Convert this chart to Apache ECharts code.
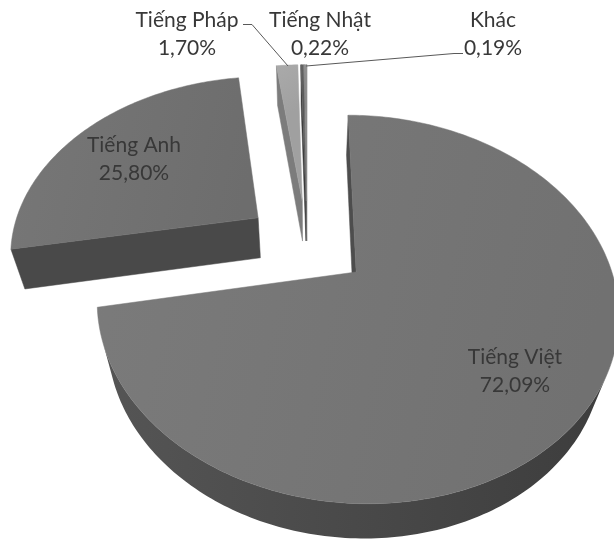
<!DOCTYPE html>
<html>
<head>
<meta charset="utf-8">
<script src="https://cdn.jsdelivr.net/npm/echarts@6/dist/echarts.min.js"></script>
<style>
  html, body { margin: 0; padding: 0; background: #ffffff; }
  #chart { width: 614px; height: 540px; }
</style>
</head>
<body>
<div id="chart"></div>
<script>
// Language shares (percent)
const categories = ['Tiếng Việt', 'Tiếng Anh', 'Tiếng Pháp', 'Tiếng Nhật', 'Khác'];
const shares = [72.09, 25.80, 1.70, 0.22, 0.19];

// Face colours for each slice (top face)
const topColors = ['#777777', '#737373', '#a6a6a6', '#5e5e5e', '#8c8c8c'];

// Where each slice starts, as cumulative percent
const total = shares.reduce((a, b) => a + b, 0);
const starts = [];
shares.reduce((acc, v) => { starts.push(acc); return acc + v; }, 0);

// Perspective camera looking down on the pie (pie radius = 1 world unit)
const VIEW = {
  cx: 307, cy: 243,          // screen position of the pie centre
  fx: 913, fy: 893,          // focal lengths in px
  dist: 3.68,                // camera distance
  tilt: 46.5 * Math.PI / 180,
  thick: 0.25,               // slab thickness
  explode: 0.25              // distance each slice is pulled out
};
const SIN = Math.sin(VIEW.tilt), COS = Math.cos(VIEW.tilt);
const CAM_Z = VIEW.dist * COS;

function depthOf(X, Y, Z) { return VIEW.dist - Z * COS - Y * SIN; }
function project(X, Y, Z) {
  const d = depthOf(X, Y, Z);
  return [VIEW.cx + VIEW.fx * X / d, VIEW.cy + VIEW.fy * (Z * SIN - Y * COS) / d];
}
function grey(v) {
  v = Math.max(0, Math.min(255, Math.round(v)));
  return 'rgb(' + v + ',' + v + ',' + v + ')';
}
function hexLevel(hex) { return parseInt(hex.slice(1, 3), 16); }
function faceZ(d) { return 1000 - Math.round(d * 100); }

function renderItem(params, api) {
  const value = api.value(0);
  const startPct = api.value(1);
  const idx = api.value(2);
  const a0 = startPct / total * 2 * Math.PI;
  const a1 = (startPct + value) / total * 2 * Math.PI;
  const mid = (a0 + a1) / 2;
  const ox = VIEW.explode * Math.sin(mid);
  const oz = -VIEW.explode * Math.cos(mid);
  const h = VIEW.thick;
  const base = hexLevel(topColors[idx]);
  const children = [];

  const n = Math.max(2, Math.ceil((a1 - a0) / (Math.PI / 180)));
  const rim = [];
  for (let k = 0; k <= n; k++) {
    const t = a0 + (a1 - a0) * k / n;
    rim.push([ox + Math.sin(t), oz - Math.cos(t), t]);
  }

  // curved outer wall: one polygon for each run of rim facing the camera
  const facing = k => {
    const p = rim[k], q = rim[k + 1];
    const tm = (p[2] + q[2]) / 2;
    const mx = (p[0] + q[0]) / 2, mz = (p[1] + q[1]) / 2;
    return Math.sin(tm) * (0 - mx) + (-Math.cos(tm)) * (CAM_Z - mz) > 0;
  };
  let k = 0;
  while (k < n) {
    if (!facing(k)) { k++; continue; }
    let e = k;
    while (e < n && facing(e)) e++;
    const run = rim.slice(k, e + 1);
    const topEdge = run.map(p => project(p[0], 0, p[1]));
    const botEdge = run.map(p => project(p[0], -h, p[1])).reverse();
    const mp = run[Math.floor(run.length / 2)];
    children.push({
      type: 'polygon',
      z2: faceZ(depthOf(mp[0], -h / 2, mp[1])),
      shape: { points: topEdge.concat(botEdge) },
      style: {
        fill: new echarts.graphic.LinearGradient(0, 0, 1, 0, [
          { offset: 0, color: grey(base - 34) },
          { offset: 1, color: grey(base - 58) }
        ])
      }
    });
    k = e;
  }

  // flat radial faces at both cut edges
  const radial = [
    { t: a0, nx: -Math.cos(a0), nz: -Math.sin(a0) },
    { t: a1, nx: Math.cos(a1), nz: Math.sin(a1) }
  ];
  radial.forEach(f => {
    const ex = ox + Math.sin(f.t), ez = oz - Math.cos(f.t);
    if (f.nx * (0 - ox) + f.nz * (CAM_Z - oz) <= 0) return;
    const c = grey(base - 42);
    children.push({
      type: 'polygon',
      z2: faceZ(depthOf((ox + ex) / 2, -h / 2, (oz + ez) / 2)),
      shape: { points: [project(ox, 0, oz), project(ex, 0, ez), project(ex, -h, ez), project(ox, -h, oz)] },
      style: { fill: c, stroke: c, lineWidth: 0.5 }
    });
  });

  // top face
  const top = [project(ox, 0, oz)].concat(rim.map(p => project(p[0], 0, p[1])));
  children.push({
    type: 'polygon',
    z2: 5000,
    shape: { points: top },
    style: {
      fill: new echarts.graphic.LinearGradient(0, 0, 1, 0.3, [
        { offset: 0, color: grey(base + 4) },
        { offset: 1, color: grey(base - 6) }
      ]),
      stroke: topColors[idx],
      lineWidth: 0.5
    }
  });

  return { type: 'group', children: children };
}

function pctText(v) { return v.toFixed(2).replace('.', ',') + '%'; }

// label layout: centre point of each two-line label
const labelPos = [[515, 371], [134, 159], [187, 34], [320, 34], [493, 34]];
const LABEL_FONT = '21px Lato, "Open Sans", sans-serif';

const labelGraphics = categories.map((name, i) => ({
  type: 'text',
  x: labelPos[i][0],
  y: labelPos[i][1],
  z: 10,
  style: {
    text: name + '\n' + pctText(shares[i]),
    font: LABEL_FONT,
    fill: '#383838',
    align: 'center',
    verticalAlign: 'middle',
    lineHeight: 28
  }
}));

const leaderLines = [
  [[243, 24.5], [252, 24.5], [288, 66]],
  [[306, 66], [454, 53.5], [463, 53.5]]
].map(pts => ({
  type: 'polyline',
  z: 10,
  shape: { points: pts },
  style: { stroke: '#595959', lineWidth: 1, fill: null }
}));

const chart = echarts.init(document.getElementById('chart'), null, { renderer: 'canvas' });
chart.setOption({
  backgroundColor: '#ffffff',
  animation: false,
  series: [{
    type: 'custom',
    coordinateSystem: 'none',
    renderItem: renderItem,
    data: shares.map((v, i) => [v, starts[i], i])
  }],
  graphic: labelGraphics.concat(leaderLines)
});
</script>
</body>
</html>
